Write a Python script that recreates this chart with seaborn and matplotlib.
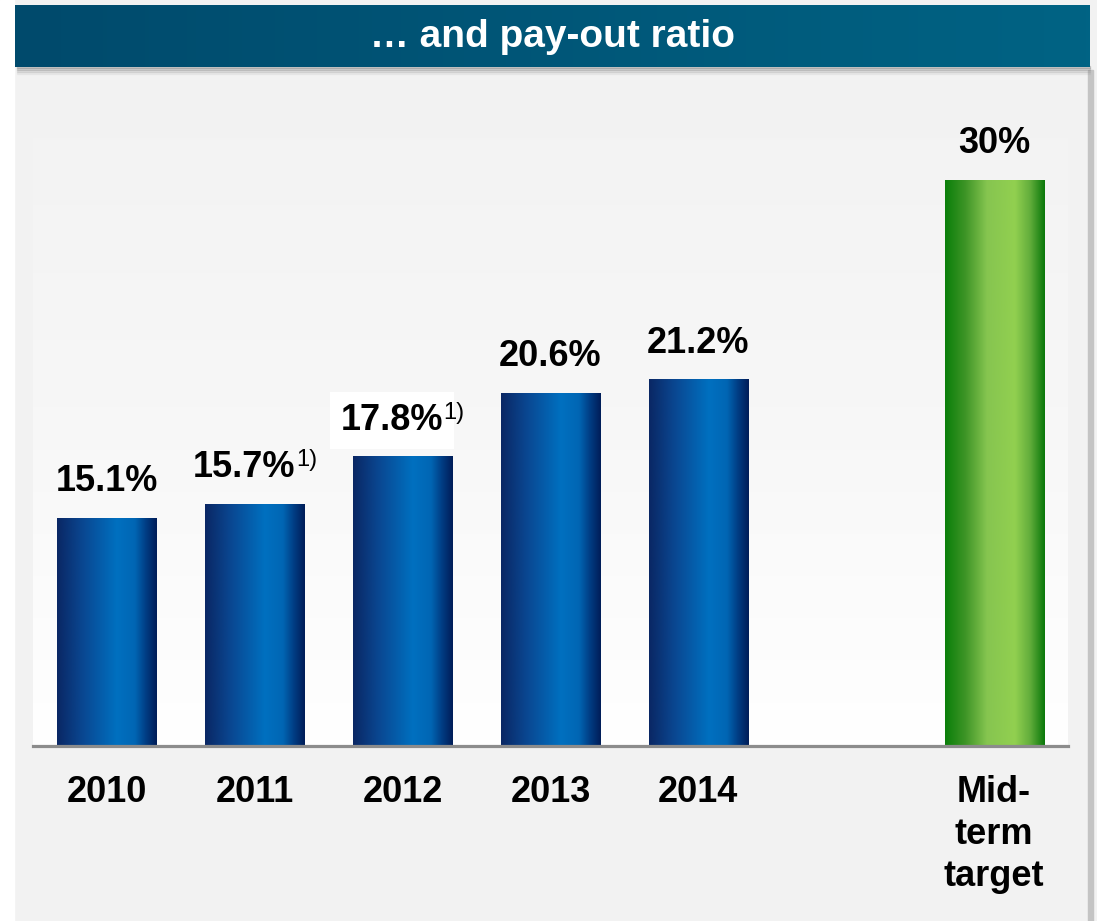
import numpy as np
import pandas as pd
import matplotlib
matplotlib.use("Agg")
import matplotlib.pyplot as plt
from matplotlib.colors import LinearSegmentedColormap
from matplotlib.patches import Rectangle
import seaborn as sns

# ---------------- data ----------------
categories = ["2010", "2011", "2012", "2013", "2014", "Mid-\nterm\ntarget"]
values = [15.1, 15.7, 17.8, 20.6, 21.2, 30.0]
value_labels = ["15.1%", "15.7%", "17.8%", "20.6%", "21.2%", "30%"]
footnotes = ["", "1)", "1)", "", "", ""]
bar_kind = ["actual", "actual", "actual", "actual", "actual", "target"]
title = "\u2026 and pay-out ratio"

gap = " "
order = categories[:5] + [gap] + categories[5:]

# ---------------- style ----------------
sns.set_theme(style="white")
plt.rcParams["font.family"] = ["Liberation Sans", "DejaVu Sans"]

W, H = 1097, 921
fig = plt.figure(figsize=(W / 100, H / 100), dpi=100)
fig.patch.set_facecolor("#f2f2f2")

blue_cmap = LinearSegmentedColormap.from_list(
    "blue", [(0.0, "#0a2764"), (0.25, "#0a4690"), (0.6, "#0070c0"),
             (0.78, "#0066b4"), (0.9, "#003a80"), (1.0, "#001d58")])
green_cmap = LinearSegmentedColormap.from_list(
    "green", [(0.0, "#0a7f0a"), (0.2, "#3d9426"), (0.42, "#86c550"),
              (0.7, "#92d050"), (0.85, "#63ae3c"), (1.0, "#0a780a")])
bg_cmap = LinearSegmentedColormap.from_list("bg", ["#ffffff", "#f7f7f7", "#f2f2f2"])
title_cmap = LinearSegmentedColormap.from_list("title", ["#004a6c", "#006384"])

axpos = [33 / W, 1 - 746 / H, (1068 - 33) / W, (746 - 70) / H]

# ---------------- background of plot area ----------------
bgax = fig.add_axes(axpos, zorder=0)
bgax.imshow(np.linspace(0, 1, 256)[:, None], cmap=bg_cmap, origin="lower",
            extent=[0, 1, 0, 1], aspect="auto", interpolation="bicubic")
bgax.set_xlim(0, 1)
bgax.set_ylim(0, 1)
bgax.axis("off")

# ---------------- plot area ----------------
ax = fig.add_axes(axpos, zorder=1)
ax.set_facecolor("none")

df = pd.DataFrame({"cat": categories, "val": values, "kind": bar_kind})
sns.barplot(data=df, x="cat", y="val", order=order, width=0.67, ax=ax,
            color="#0070c0", errorbar=None, zorder=1)

grad = np.linspace(0, 1, 256)[None, :]
for p in list(ax.patches):
    xc = p.get_x() + p.get_width() / 2
    idx = int(round(xc))
    cat = order[idx]
    if cat not in categories:
        continue
    kind = bar_kind[categories.index(cat)]
    cmap = green_cmap if kind == "target" else blue_cmap
    ax.imshow(grad, cmap=cmap, extent=[p.get_x(), p.get_x() + p.get_width(),
                                       p.get_y(), p.get_y() + p.get_height()],
              aspect="auto", zorder=2, interpolation="bicubic")
    p.set_visible(False)

ax.set_xlim(-0.5, 6.5)
ax.set_ylim(5.05, 34.86)

# value labels
for cat, v, lab, fn in zip(categories, values, value_labels, footnotes):
    xi = order.index(cat)
    if fn:
        bbox = dict(boxstyle="square,pad=0.3", fc="white", ec="none") if cat == "2012" else None
        ax.annotate(lab, (xi, v), xytext=(29, 19.5), textcoords="offset points",
                    ha="right", va="baseline", fontsize=26, fontweight="bold",
                    color="black", zorder=5, bbox=bbox)
        ax.annotate(fn, (xi, v), xytext=(29.5, 27.5), textcoords="offset points",
                    ha="left", va="baseline", fontsize=17, color="black", zorder=5)
    else:
        ax.annotate(lab, (xi, v), xytext=(0, 19.5), textcoords="offset points",
                    ha="center", va="baseline", fontsize=26, fontweight="bold",
                    color="black", zorder=5)

for s in ["top", "left", "right"]:
    ax.spines[s].set_visible(False)
ax.spines["bottom"].set_color("#8c8c8c")
ax.spines["bottom"].set_linewidth(2.3)
ax.spines["bottom"].set_zorder(6)
ax.set_yticks([])
ax.set_xlabel("")
ax.set_ylabel("")
ax.tick_params(axis="x", length=0, pad=21, labelsize=26, labelcolor="black")
for t in ax.get_xticklabels():
    t.set_fontweight("bold")
    t.set_linespacing(1.25)

# ---------------- title bar ----------------
for i, a in enumerate([0.35, 0.25, 0.15, 0.08]):
    fig.patches.append(Rectangle((17 / W, 1 - (68 + 2 * i) / H), 1073 / W, 2 / H,
                                 transform=fig.transFigure, color="#888888",
                                 alpha=a, zorder=1))
tax = fig.add_axes([15 / W, 1 - 67 / H, (1090 - 15) / W, 62 / H], zorder=2)
tax.imshow(grad, cmap=title_cmap, extent=[0, 1, 0, 1], aspect="auto")
tax.set_xlim(0, 1)
tax.set_ylim(0, 1)
tax.axis("off")
tax.text(0.5, 0.48, title, ha="center", va="center", color="white",
         fontsize=28, fontweight="bold")

# ---------------- frame decorations ----------------
fig.patches.append(Rectangle((0, 0), 14 / W, 1, transform=fig.transFigure,
                             color="white", zorder=0))
fig.patches.append(Rectangle((1088 / W, 0), 5 / W, 1 - 70 / H, transform=fig.transFigure,
                             color="#c4c4c4", zorder=0))

fig.savefig("out.png", dpi=100, facecolor=fig.get_facecolor())
